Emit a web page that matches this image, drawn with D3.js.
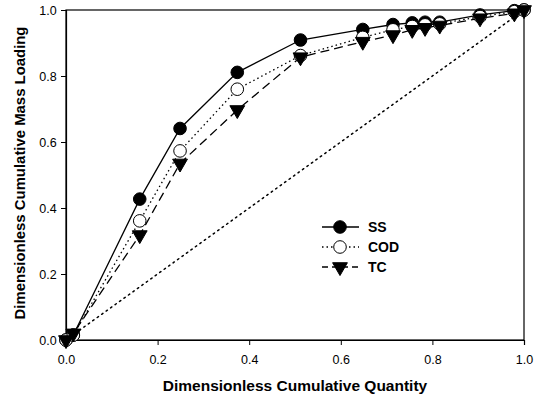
<!DOCTYPE html>
<html>
<head>
<meta charset="utf-8">
<script src="https://cdnjs.cloudflare.com/ajax/libs/d3/7.8.5/d3.min.js"></script>
<style>
  body { margin: 0; background: #fff; }
  svg { display: block; }
  text { font-family: Arial, "Liberation Sans", sans-serif; }
</style>
</head>
<body>
<svg id="chart" width="539" height="397"></svg>
<script>
// cumulative quantity (x) shared by all three series
var quantity = [0, 0.016, 0.161, 0.249, 0.374, 0.512, 0.648, 0.714, 0.756, 0.784, 0.816, 0.904, 0.979, 1.0];
var ssLoad  = [0, 0.015, 0.427, 0.641, 0.811, 0.909, 0.941, 0.956, 0.961, 0.963, 0.963, 0.985, 0.998, 1.0];
var codLoad = [0, 0.015, 0.361, 0.573, 0.760, 0.862, 0.917, 0.940, 0.950, 0.955, 0.958, 0.980, 0.995, 1.0];
var tcLoad  = [0, 0.020, 0.318, 0.535, 0.697, 0.857, 0.904, 0.924, 0.940, 0.946, 0.953, 0.975, 0.990, 1.0];
var seriesNames = ["SS", "COD", "TC"];
var tickValues = [0, 0.2, 0.4, 0.6, 0.8, 1.0];

var svg = d3.select("#chart"),
    margin = { top: 10, right: 15, bottom: 57, left: 66 },
    width = +svg.attr("width") - margin.left - margin.right,
    height = +svg.attr("height") - margin.top - margin.bottom;

var x = d3.scaleLinear().domain([0, 1]).range([0, width]);
var y = d3.scaleLinear().domain([0, 1]).range([height, 0]);

var g = svg.append("g")
    .attr("transform", "translate(" + margin.left + "," + margin.top + ")");

// frame
g.append("rect")
    .attr("width", width)
    .attr("height", height)
    .attr("fill", "none")
    .attr("stroke", "#000")
    .attr("stroke-width", 1.2);

// 1:1 reference line
g.append("line")
    .attr("x1", x(0)).attr("y1", y(0))
    .attr("x2", x(1)).attr("y2", y(1))
    .attr("stroke", "#000")
    .attr("stroke-width", 1.5)
    .attr("stroke-dasharray", "1.5,4")
    .attr("stroke-linecap", "round");

var xAxis = g.append("g")
    .attr("transform", "translate(0," + height + ")")
    .call(d3.axisBottom(x).tickValues(tickValues).tickFormat(d3.format(".1f")).tickSizeOuter(0).tickSize(5));
var yAxis = g.append("g")
    .call(d3.axisLeft(y).tickValues(tickValues).tickFormat(d3.format(".1f")).tickSizeOuter(0).tickSize(5));

[xAxis, yAxis].forEach(function(a) {
    a.select(".domain").attr("stroke-width", 1.2);
    a.selectAll("text").style("font-size", "12.5px").attr("fill", "#000");
});
xAxis.selectAll("text").attr("dy", "1.3em");
yAxis.selectAll("text").attr("dx", "-0.1em");

// axis titles
svg.append("text")
    .attr("x", 295)
    .attr("y", 391)
    .attr("text-anchor", "middle")
    .style("font-size", "15.5px")
    .style("font-weight", "bold")
    .text("Dimensionless Cumulative Quantity");

svg.append("text")
    .attr("transform", "translate(25,173) rotate(-90)")
    .attr("text-anchor", "middle")
    .style("font-size", "14.9px")
    .style("font-weight", "bold")
    .text("Dimensionless Cumulative Mass Loading");

var series = [
    { name: seriesNames[0], values: ssLoad, dash: null, marker: "circleFilled" },
    { name: seriesNames[1], values: codLoad, dash: "1.5,3", marker: "circleOpen" },
    { name: seriesNames[2], values: tcLoad, dash: "9,5", marker: "triangle" }
];

var line = d3.line()
    .x(function(d) { return x(d[0]); })
    .y(function(d) { return y(d[1]); });

var triangle = d3.symbol().type(d3.symbolTriangle).size(95);

function drawMarker(sel, kind) {
    if (kind === "triangle") {
        sel.append("path")
            .attr("d", triangle)
            .attr("transform", "rotate(180)")
            .attr("fill", "#000")
            .attr("stroke", "#000");
    } else {
        sel.append("circle")
            .attr("r", 6.3)
            .attr("fill", kind === "circleFilled" ? "#000" : "#fff")
            .attr("stroke", "#000")
            .attr("stroke-width", 1);
    }
}

series.forEach(function(s) {
    var pts = quantity.map(function(q, i) { return [q, s.values[i]]; });
    g.append("path")
        .datum(pts)
        .attr("d", line)
        .attr("fill", "none")
        .attr("stroke", "#000")
        .attr("stroke-width", 1.3)
        .attr("stroke-dasharray", s.dash);
});

series.forEach(function(s) {
    var pts = quantity.map(function(q, i) { return [q, s.values[i]]; });
    g.selectAll(".m-" + s.name)
        .data(pts)
        .enter().append("g")
        .attr("class", "m-" + s.name)
        .attr("transform", function(d) { return "translate(" + x(d[0]) + "," + y(d[1]) + ")"; })
        .each(function() { drawMarker(d3.select(this), s.marker); });
});

// legend
var legend = svg.append("g").attr("transform", "translate(322,227)");
series.forEach(function(s, i) {
    var row = legend.append("g").attr("transform", "translate(0," + (i * 20) + ")");
    row.append("line")
        .attr("x1", 0).attr("x2", 37)
        .attr("stroke", "#000")
        .attr("stroke-width", 1.3)
        .attr("stroke-dasharray", s.dash === "9,5" ? "6,4" : s.dash);
    var m = row.append("g").attr("transform", "translate(18,0)");
    drawMarker(m, s.marker);
    row.append("text")
        .attr("x", 46)
        .attr("dy", "0.36em")
        .style("font-size", "14px")
        .style("font-weight", "bold")
        .text(s.name);
});
</script>
</body>
</html>
